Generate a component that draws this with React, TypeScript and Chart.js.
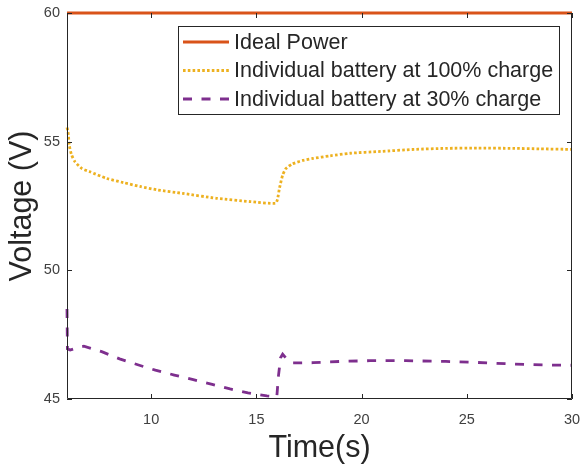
import React, { useEffect, useRef } from "react";
import { Chart, registerables } from "chart.js";

Chart.register(...registerables);

// ---- data ----
const idealTime = [6, 30];
const idealVoltage = [60, 60];

const fullTime = [6.0, 6.05, 6.11, 6.22, 6.38, 6.7, 7.09, 7.89, 8.68, 9.47, 10.26, 11.5, 13.1, 14.7, 15.9, 16.0, 16.1, 16.25, 16.4, 16.7, 17.2, 17.7, 18.5, 19.45, 20.9, 22.5, 24, 25.5, 27.2, 28.5, 30];
const fullVoltage = [55.55, 55.38, 54.85, 54.48, 54.22, 53.96, 53.83, 53.57, 53.41, 53.26, 53.13, 52.99, 52.8, 52.67, 52.6, 52.75, 53.2, 53.7, 53.95, 54.13, 54.27, 54.35, 54.45, 54.55, 54.62, 54.7, 54.74, 54.75, 54.74, 54.72, 54.7];

const lowTime = [6.0, 6.02, 6.15, 6.5, 6.8, 7.65, 8.5, 9.4, 10.2, 11.1, 12.0, 12.9, 13.75, 14.6, 15.5, 15.97, 16.05, 16.15, 16.25, 16.4, 16.7, 17.7, 19, 20.4, 22.1, 24, 25.5, 27.2, 29, 30];
const lowVoltage = [48.5, 46.95, 46.9, 47.0, 47.05, 46.84, 46.56, 46.32, 46.12, 45.93, 45.75, 45.57, 45.39, 45.24, 45.12, 45.08, 45.9, 46.6, 46.74, 46.6, 46.4, 46.41, 46.46, 46.49, 46.49, 46.46, 46.42, 46.36, 46.32, 46.31];

const seriesLabels = [
  "Ideal Power",
  "Individual battery at 100% charge",
  "Individual battery at 30% charge",
];
const xTicks = [10, 15, 20, 25, 30];
const yTicks = [45, 50, 55, 60];

const FONT = "'Liberation Sans', Arial, Helvetica, sans-serif";
const AXIS_COLOR = "#262626";

const toPoints = (xs: number[], ys: number[]) => xs.map((x, i) => ({ x, y: ys[i] }));

const boxPlugin = {
  id: "matlabBox",
  afterDraw(chart: any) {
    const { ctx, chartArea, scales } = chart;
    const { left, right, top, bottom } = chartArea;
    ctx.save();
    ctx.strokeStyle = AXIS_COLOR;
    ctx.lineWidth = 1;
    ctx.beginPath();
    ctx.moveTo(left + 0.5, top);
    ctx.lineTo(left + 0.5, bottom - 0.5);
    ctx.lineTo(right - 0.5, bottom - 0.5);
    ctx.lineTo(right - 0.5, top);
    ctx.stroke();
    const tl = 5;
    ctx.beginPath();
    xTicks.forEach((v) => {
      const px = Math.round(scales.x.getPixelForValue(v)) + 0.5;
      ctx.moveTo(px, bottom);
      ctx.lineTo(px, bottom - tl);
      ctx.moveTo(px, top);
      ctx.lineTo(px, top + tl);
    });
    yTicks.forEach((v) => {
      const py = Math.round(scales.y.getPixelForValue(v)) + 0.5;
      ctx.moveTo(left, py);
      ctx.lineTo(left + tl, py);
      ctx.moveTo(right, py);
      ctx.lineTo(right - tl, py);
    });
    ctx.stroke();

    // legend
    const bx = 178.5, by = 26.5, bw = 381, bh = 88;
    ctx.fillStyle = "#ffffff";
    ctx.fillRect(bx, by, bw, bh);
    ctx.strokeStyle = AXIS_COLOR;
    ctx.lineWidth = 1;
    ctx.setLineDash([]);
    ctx.strokeRect(bx, by, bw, bh);
    const rows = [42, 70.5, 99];
    ctx.font = `21.5px ${FONT}`;
    ctx.textBaseline = "middle";
    ctx.textAlign = "left";
    chart.data.datasets.forEach((ds: any, i: number) => {
      const y = rows[i];
      ctx.save();
      ctx.strokeStyle = ds.borderColor;
      ctx.lineWidth = ds.borderWidth;
      ctx.setLineDash(ds.borderDash || []);
      ctx.beginPath();
      ctx.moveTo(183, y);
      ctx.lineTo(229, y);
      ctx.stroke();
      ctx.restore();
      ctx.fillStyle = AXIS_COLOR;
      ctx.fillText(ds.label, 234, y + 1);
    });
    ctx.restore();
  },
};

export default function App() {
  const ref = useRef<HTMLCanvasElement | null>(null);
  useEffect(() => {
    if (!ref.current) return;
    const chart = new Chart(ref.current, {
      type: "line",
      data: {
        datasets: [
          {
            label: seriesLabels[0],
            data: toPoints(idealTime, idealVoltage),
            borderColor: "#D95319",
            borderWidth: 3,
            pointRadius: 0,
            tension: 0,
            clip: 4,
          },
          {
            label: seriesLabels[1],
            data: toPoints(fullTime, fullVoltage),
            borderColor: "#EDB120",
            borderWidth: 2.8,
            borderDash: [2.6, 2.2],
            pointRadius: 0,
            tension: 0.2,
            clip: 2,
          },
          {
            label: seriesLabels[2],
            data: toPoints(lowTime, lowVoltage),
            borderColor: "#7E2F8E",
            borderWidth: 2.8,
            borderDash: [9, 9.5],
            pointRadius: 0,
            tension: 0,
            clip: 2,
          },
        ],
      },
      options: {
        responsive: false,
        animation: false,
        devicePixelRatio: 1,
        layout: { padding: { top: 13, right: 10, left: 0, bottom: 0 } },
        plugins: {
          legend: { display: false },
          tooltip: { enabled: false },
        },
        scales: {
          x: {
            type: "linear",
            min: 6,
            max: 30,
            afterBuildTicks: (scale: any) => {
              scale.ticks = xTicks.map((v) => ({ value: v }));
            },
            afterFit: (scale: any) => {
              scale.height = 68;
              scale.paddingLeft = 0;
              scale.paddingRight = 0;
            },
            grid: { display: false, drawTicks: false },
            border: { display: false },
            ticks: {
              padding: 12,
              maxRotation: 0,
              color: "#404040",
              font: { family: FONT, size: 14.5 },
            },
            title: {
              display: true,
              text: "Time(s)",
              color: AXIS_COLOR,
              font: { family: FONT, size: 30.5 },
              padding: { top: 0, bottom: 0 },
            },
          },
          y: {
            type: "linear",
            min: 45,
            max: 60,
            afterBuildTicks: (scale: any) => {
              scale.ticks = yTicks.map((v) => ({ value: v }));
            },
            afterFit: (scale: any) => {
              scale.width = 67;
              scale.paddingTop = 0;
              scale.paddingBottom = 0;
            },
            grid: { display: false, drawTicks: false },
            border: { display: false },
            ticks: {
              padding: 7,
              color: "#404040",
              font: { family: FONT, size: 14.5 },
            },
            title: {
              display: true,
              text: "Voltage (V)",
              color: AXIS_COLOR,
              font: { family: FONT, size: 30.5 },
              padding: { top: 4, bottom: 0 },
            },
          },
        },
      },
      plugins: [boxPlugin],
    });
    return () => chart.destroy();
  }, []);
  return (
    <div style={{ position: "absolute", left: 0, top: 0, width: 582, height: 467, background: "#fff" }}>
      <canvas ref={ref} width={582} height={467} />
    </div>
  );
}
